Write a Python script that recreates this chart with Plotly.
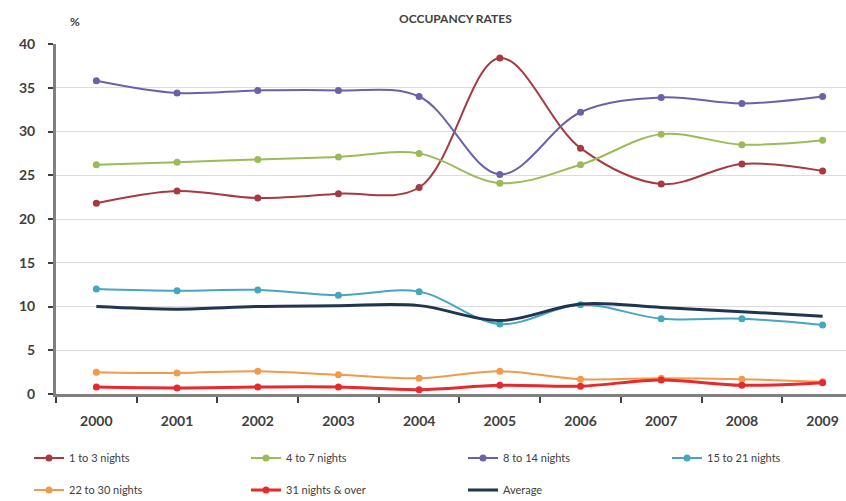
import plotly.graph_objects as go

# Occupancy rates (%) by length of stay, 2000-2009
years = ["2000", "2001", "2002", "2003", "2004", "2005", "2006", "2007", "2008", "2009"]

nights_1_3 = [21.8, 23.2, 22.4, 22.9, 23.6, 38.4, 28.1, 24.0, 26.3, 25.5]
nights_4_7 = [26.2, 26.5, 26.8, 27.1, 27.5, 24.1, 26.2, 29.7, 28.5, 29.0]
nights_8_14 = [35.8, 34.4, 34.7, 34.7, 34.0, 25.1, 32.2, 33.9, 33.2, 34.0]
nights_15_21 = [12.0, 11.8, 11.9, 11.3, 11.7, 8.0, 10.2, 8.6, 8.6, 7.9]
nights_22_30 = [2.5, 2.4, 2.6, 2.2, 1.8, 2.6, 1.7, 1.8, 1.7, 1.4]
nights_31_over = [0.8, 0.7, 0.8, 0.8, 0.5, 1.0, 0.9, 1.6, 1.0, 1.3]
average = [10.0, 9.7, 10.0, 10.1, 10.1, 8.4, 10.3, 9.9, 9.4, 8.9]

series = [
    ("1 to 3 nights", nights_1_3, "#A63A40", 2, True, "legend"),
    ("4 to 7 nights", nights_4_7, "#9BBB59", 2, True, "legend"),
    ("8 to 14 nights", nights_8_14, "#6A62A8", 2, True, "legend"),
    ("15 to 21 nights", nights_15_21, "#45A6BE", 2, True, "legend3"),
    ("22 to 30 nights", nights_22_30, "#F29A4A", 2, True, "legend2"),
    ("31 nights & over", nights_31_over, "#E62A2E", 3, True, "legend2"),
    ("Average", average, "#1F3550", 3, False, "legend2"),
]

fig = go.Figure()
for name, vals, color, width, markers, leg in series:
    fig.add_trace(go.Scatter(
        x=years, y=vals, name=name,
        mode="lines+markers" if markers else "lines",
        line=dict(color=color, width=width, shape="spline", smoothing=1),
        marker=dict(size=7, color=color),
        legend=leg,
    ))

text_font = dict(family="Lato", size=14, color="#404040", weight="bold")
legend_font = dict(family="Lato", size=11, color="#404040")

# plot area spans 56..846 px horizontally and 44..394 px vertically
def px_x(px):
    return (px - 56) / 790

def px_y(py):
    return (394 - py) / 350

legend_common = dict(
    orientation="h", xref="container", yref="container",
    xanchor="left", yanchor="middle", itemwidth=30,
    entrywidth=172, entrywidthmode="pixels", font=legend_font,
    bgcolor="rgba(0,0,0,0)",
)

fig.update_layout(
    width=846, height=501,
    margin=dict(l=56, r=0, t=44, b=107),
    plot_bgcolor="white", paper_bgcolor="white",
    xaxis=dict(
        type="category", range=[-0.5, 9.29],
        tickson="boundaries", ticks="outside", ticklen=6, tickwidth=2, tickcolor="#404040",
        showline=True, linecolor="#808080", linewidth=3,
        showgrid=False, tickfont=text_font, ticklabelstandoff=12, fixedrange=True,
    ),
    yaxis=dict(
        range=[0, 40], dtick=5, ticks="outside", ticklen=5, tickwidth=2, tickcolor="#404040",
        showline=True, linecolor="#808080", linewidth=3,
        showgrid=True, gridcolor="#DCDCDC", gridwidth=1,
        tickfont=text_font, ticklabelstandoff=10, zeroline=False,
    ),
    legend=dict(legend_common, x=29 / 846, y=1 - 458 / 501),
    legend3=dict(legend_common, x=667 / 846, y=1 - 458 / 501, entrywidth=120),
    legend2=dict(legend_common, x=29 / 846, y=1 - 490 / 501),
    annotations=[
        dict(text="OCCUPANCY RATES", xref="paper", yref="paper",
             x=px_x(455), y=px_y(18), yanchor="middle", showarrow=False,
             font=dict(family="Lato", size=12, color="#404040", weight="bold")),
        dict(text="%", xref="paper", yref="paper",
             x=px_x(68), y=px_y(22), yanchor="middle", showarrow=False,
             font=dict(family="Lato", size=12, color="#404040", weight="bold")),
    ],
    showlegend=True,
)

fig.write_html("out.html")
